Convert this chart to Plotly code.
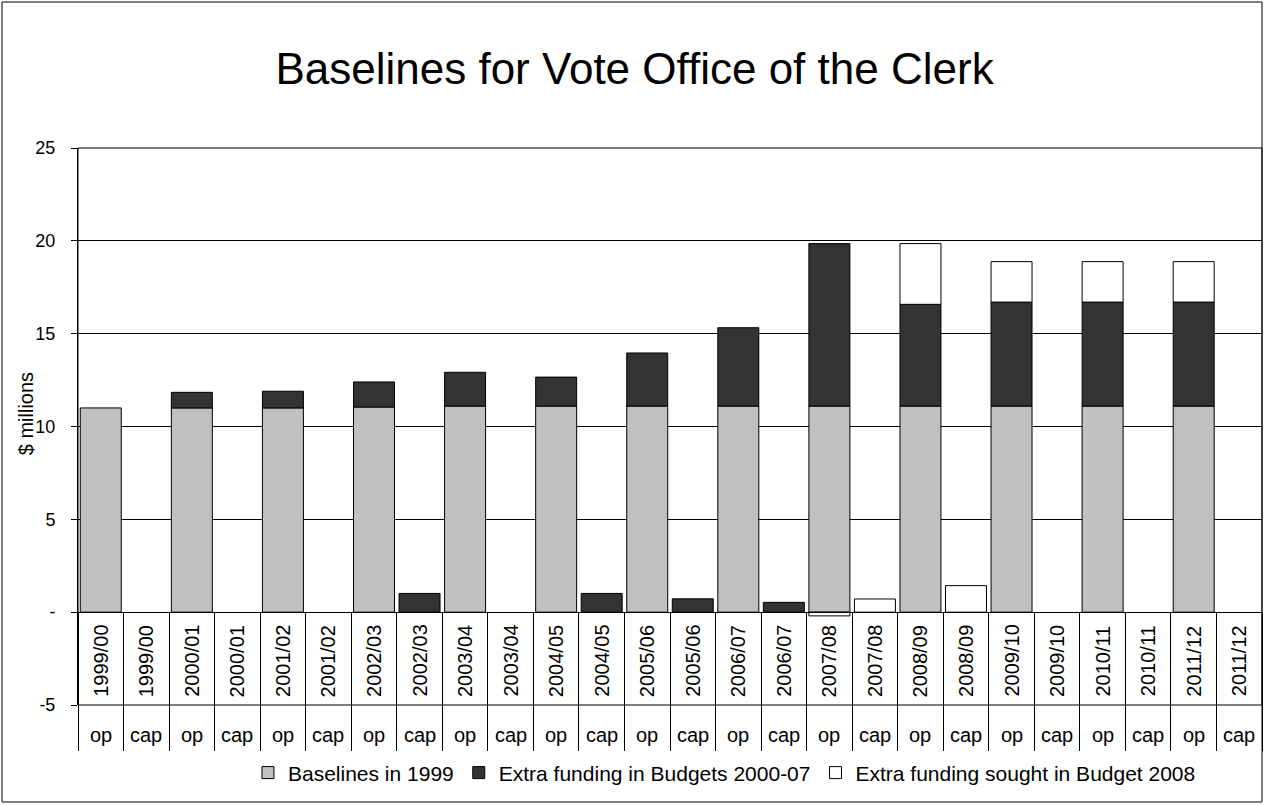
import plotly.graph_objects as go

# Financial years, each split into operating and capital funding
years = ["1999/00", "2000/01", "2001/02", "2002/03", "2003/04", "2004/05",
         "2005/06", "2006/07", "2007/08", "2008/09", "2009/10", "2010/11", "2011/12"]
kinds = ["op", "cap"]

# $ millions, one value per (year, kind) column in the order op, cap
baselines_1999 = [11.0, None, 11.0, None, 11.0, None, 11.05, None, 11.1, None,
                  11.1, None, 11.1, None, 11.1, None, 11.1, None, 11.1, None,
                  11.1, None, 11.1, None, 11.1, None]
extra_2000_07 = [None, None, 0.84, None, 0.9, None, 1.35, 1.01, 1.82, None,
                 1.56, 1.01, 2.86, 0.72, 4.22, 0.53, 8.75, None, 5.48, None,
                 5.6, None, 5.6, None, 5.6, None]
sought_2008 = [None, None, None, None, None, None, None, None, None, None,
               None, None, None, None, None, None, -0.2, 0.71, 3.27, 1.43,
               2.18, None, 2.18, None, 2.18, None]

y_ticks = [-5, 0, 5, 10, 15, 20, 25]
y_tick_text = ["-5", "-", "5", "10", "15", "20", "25"]

col_kind = [k for _ in years for k in kinds]
col_year = [y for y in years for _ in kinds]
col_id = [f"{y} {k}" for y, k in zip(col_year, col_kind)]

FONT = "Liberation Sans, Arial, sans-serif"

series = [
    ("Baselines in 1999", baselines_1999, "#C0C0C0"),
    ("Extra funding in Budgets 2000-07", extra_2000_07, "#333333"),
    ("Extra funding sought in Budget 2008", sought_2008, "#FFFFFF"),
]

fig = go.Figure()
for name, vals, colour in series:
    fig.add_trace(go.Bar(
        x=col_id, y=vals, name=name,
        marker=dict(color=colour, line=dict(color="#000000", width=1)),
    ))

Y_MIN, Y_MAX = -5, 25
zero_pos = (0 - Y_MIN) / (Y_MAX - Y_MIN)

fig.update_layout(
    width=1264, height=805,
    margin=dict(l=78, r=2, t=148, b=100),
    paper_bgcolor="#FFFFFF", plot_bgcolor="#FFFFFF",
    barmode="relative", bargap=0.1,
    font=dict(family=FONT, color="#000000", size=19),
    title=dict(text="Baselines for Vote Office of the Clerk",
               font=dict(family=FONT, size=44, color="#000000"),
               x=0.502, xanchor="center", y=1 - 69 / 805, yanchor="middle"),
    showlegend=True,
    legend=dict(orientation="h", x=0.546, xanchor="center",
                y=-0.122, yanchor="middle",
                font=dict(family=FONT, size=21), bgcolor="rgba(0,0,0,0)",
                traceorder="normal"),
)

# Category axis sits on the zero line; long boundary ticks act as the
# column dividers running through the label rows below it
fig.update_xaxes(
    type="category", anchor="free", position=zero_pos,
    showline=True, linecolor="#000000", linewidth=1,
    showgrid=False, showticklabels=False,
    ticks="outside", tickson="boundaries", ticklen=138,
    tickcolor="#000000", tickwidth=1,
)
fig.update_yaxes(
    range=[Y_MIN, Y_MAX], tickvals=y_ticks, ticktext=y_tick_text,
    showline=True, linecolor="#000000", linewidth=1,
    showgrid=True, gridcolor="#000000", gridwidth=1,
    zeroline=False, ticks="outside", ticklen=6, tickcolor="#000000",
    ticklabelstandoff=12,
    tickfont=dict(family=FONT, size=18, color="#000000"),
)

# Two label rows under each column: rotated year, then op / cap
for cid, yr, kd in zip(col_id, col_year, col_kind):
    fig.add_annotation(text=yr, x=cid, xref="x", y=0.079, yref="paper",
                       textangle=-90, showarrow=False,
                       xanchor="center", yanchor="middle",
                       font=dict(family=FONT, size=20, color="#000000"))
    fig.add_annotation(text=kd, x=cid, xref="x", y=-0.054, yref="paper",
                       showarrow=False, xanchor="center", yanchor="middle",
                       font=dict(family=FONT, size=20, color="#000000"))

# Axis title placed beside the tick labels
fig.add_annotation(text="$ millions", xref="paper", yref="paper",
                   x=-52 / 1184, y=0.522, textangle=-90, showarrow=False,
                   xanchor="center", yanchor="middle",
                   font=dict(family=FONT, size=20, color="#000000"))

# Plot-area frame and chart-area frame
fig.add_shape(type="rect", xref="paper", yref="paper", x0=0, x1=1, y0=0, y1=1,
              line=dict(color="#000000", width=1), fillcolor="rgba(0,0,0,0)")
fig.add_shape(type="rect", xref="paper", yref="paper",
              x0=-76 / 1184, x1=1184 / 1184, y0=-97 / 557, y1=703 / 557,
              line=dict(color="#000000", width=1), fillcolor="rgba(0,0,0,0)")

fig.write_html("out.html")
